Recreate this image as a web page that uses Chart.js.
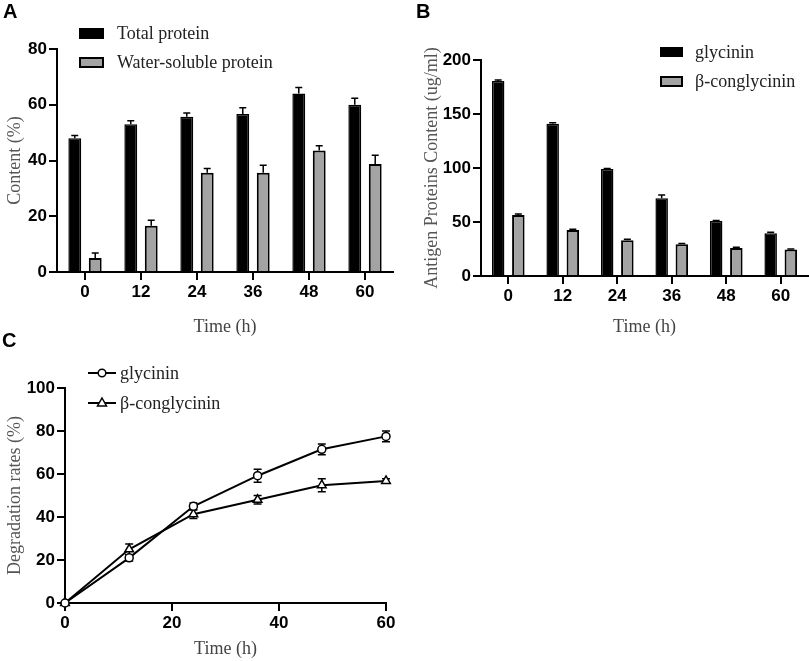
<!DOCTYPE html>
<html>
<head>
<meta charset="utf-8">
<script src="https://cdn.jsdelivr.net/npm/chart.js@4.4.1/dist/chart.umd.min.js"></script>
<style>
  body { margin: 0; background: #fff; width: 809px; height: 661px; position: relative; overflow: hidden; }
  canvas { position: absolute; }
  .letra { position: absolute; font: bold 20px 'Liberation Sans', Arial, sans-serif; line-height: 20px; color: #000; }
  .leg { position: absolute; font: 18px 'Liberation Serif', 'Times New Roman', serif; color: #222; line-height: 18px; white-space: nowrap; }
  .sw { position: absolute; box-sizing: border-box; border: 2px solid #000; }
</style>
</head>
<body>
<canvas id="graficoA" width="400" height="340" style="left:0;top:0"></canvas>
<canvas id="graficoB" width="409" height="340" style="left:400px;top:0"></canvas>
<canvas id="graficoC" width="400" height="331" style="left:0;top:330px"></canvas>

<div class="letra" style="left:3px;top:1px">A</div>
<div class="letra" style="left:416px;top:1px">B</div>
<div class="letra" style="left:2px;top:330px">C</div>

<!-- legenda A -->
<div class="sw" style="left:79px;top:28px;width:25px;height:11px;background:#000"></div>
<div class="leg" style="left:117px;top:24px">Total protein</div>
<div class="sw" style="left:79px;top:57px;width:25px;height:11px;background:#a3a3a3"></div>
<div class="leg" style="left:117px;top:53px">Water-soluble protein</div>

<!-- legenda B -->
<div class="sw" style="left:660px;top:47px;width:23px;height:10px;background:#000"></div>
<div class="leg" style="left:695px;top:43px">glycinin</div>
<div class="sw" style="left:660px;top:76px;width:23px;height:11px;background:#a3a3a3"></div>
<div class="leg" style="left:695px;top:72px">β-conglycinin</div>

<!-- legenda C -->
<svg style="position:absolute;left:86px;top:366px" width="32" height="44">
  <line x1="2" y1="7" x2="30" y2="7" stroke="#000" stroke-width="2"/>
  <circle cx="16" cy="7" r="3.8" fill="#fff" stroke="#000" stroke-width="1.5"/>
  <line x1="2" y1="37" x2="30" y2="37" stroke="#000" stroke-width="2"/>
  <polygon points="16,32 20.5,40 11.5,40" fill="#fff" stroke="#000" stroke-width="1.5"/>
</svg>
<div class="leg" style="left:120px;top:364px">glycinin</div>
<div class="leg" style="left:120px;top:394px">β-conglycinin</div>

<script>
// Dados do painel A
const horas = ['0', '12', '24', '36', '48', '60'];
const proteinaTotal = [48, 53, 55.7, 56.7, 64, 60];
const erroTotal = [1, 1.3, 1.3, 2.2, 2.2, 2.3];
const proteinaSoluvel = [5, 16.6, 35.6, 35.6, 43.6, 38.7];
const erroSoluvel = [1.8, 2, 1.5, 2.7, 1.7, 3.2];

// Dados do painel B
const glicinina = [180.5, 141, 99, 72, 51, 39.5];
const erroGlicinina = [1, 1, 0.5, 3, 0.5, 1];
const betaConglicinina = [56.5, 42.5, 33, 29.5, 26, 24.5];
const erroBeta = [1, 0.8, 1, 0.5, 0.6, 0.6];

// Dados do painel C (taxa de degradação)
const tempoC = [0, 12, 24, 36, 48, 60];
const degGlicinina = [0, 21, 45, 59.2, 71.5, 77.5];
const errDegGlicinina = [0, 1.5, 1.5, 3, 2.5, 2.5];
const degBeta = [0, 25, 41.3, 48, 54.8, 56.8];
const errDegBeta = [0, 2.5, 2, 2, 3, 1];

const fonteTick = { family: "'Liberation Sans', Arial, sans-serif", weight: 'bold', size: 17 };
const fonteTitulo = { family: "'Liberation Serif', 'Times New Roman', serif", size: 18, lineHeight: 1 };

// Plugin para desenhar barras de erro usando as escalas do gráfico
const barrasErro = {
  id: 'barrasErro',
  beforeDatasetsDraw(chart) {
    const ctx = chart.ctx;
    const escalaY = chart.scales.y;
    chart.data.datasets.forEach((ds, i) => {
      if (!ds.erros) return;
      const meta = chart.getDatasetMeta(i);
      meta.data.forEach((el, j) => {
        const v = ds.data[j];
        const e = ds.erros[j];
        if (!e) return;
        const topo = escalaY.getPixelForValue(v + e);
        const base = el.y;
        const meia = 3.5;
        ctx.save();
        ctx.strokeStyle = '#000';
        ctx.lineWidth = 1.5;
        ctx.beginPath();
        ctx.moveTo(el.x, base);
        ctx.lineTo(el.x, topo);
        ctx.moveTo(el.x - meia, topo);
        ctx.lineTo(el.x + meia, topo);
        ctx.stroke();
        ctx.restore();
      });
    });
  }
};

function eixoX(titulo, altura, padTitulo, extra) {
  return Object.assign({
    grid: { display: true, offset: false, drawOnChartArea: false, drawTicks: true, tickLength: 8, color: '#000', lineWidth: 2 },
    border: { display: true, color: '#000', width: 2 },
    ticks: { color: '#000', font: fonteTick, padding: 2, maxRotation: 0 },
    title: { display: true, text: titulo, color: '#444', font: fonteTitulo, padding: { top: 0, bottom: padTitulo } },
    afterFit: s => { s.height = altura; }
  }, extra || {});
}

function eixoY(titulo, largura, padTitulo, max, passo) {
  return {
    min: 0, max: max,
    grid: { display: true, drawOnChartArea: false, drawTicks: true, tickLength: 8, color: '#000', lineWidth: 2 },
    border: { display: true, color: '#000', width: 2 },
    ticks: { color: '#000', font: fonteTick, padding: 2, stepSize: passo },
    title: { display: true, text: titulo, color: '#555', font: fonteTitulo, padding: { top: padTitulo, bottom: 0 } },
    afterFit: s => { s.width = largura; }
  };
}

const semExtras = { legend: { display: false }, tooltip: { enabled: false } };

// Painel A
new Chart(document.getElementById('graficoA'), {
  type: 'bar',
  data: {
    labels: horas,
    datasets: [
      { label: 'Total protein', data: proteinaTotal, erros: erroTotal, backgroundColor: '#000', borderColor: '#000', borderWidth: 1.5 },
      { label: 'Water-soluble protein', data: proteinaSoluvel, erros: erroSoluvel, backgroundColor: '#a3a3a3', borderColor: '#000', borderWidth: 2 }
    ]
  },
  options: {
    responsive: false, animation: false,
    datasets: { bar: { categoryPercentage: 0.73, barPercentage: 0.63 } },
    layout: { padding: { top: 49, right: 7, left: 0, bottom: 0 } },
    plugins: semExtras,
    scales: {
      x: eixoX('Time (h)', 68, 4),
      y: eixoY('Content (%)', 57, 6, 80, 20)
    }
  },
  plugins: [barrasErro]
});

// Painel B
new Chart(document.getElementById('graficoB'), {
  type: 'bar',
  data: {
    labels: horas,
    datasets: [
      { label: 'glycinin', data: glicinina, erros: erroGlicinina, backgroundColor: '#000', borderColor: '#000', borderWidth: 1.5 },
      { label: 'β-conglycinin', data: betaConglicinina, erros: erroBeta, backgroundColor: '#a3a3a3', borderColor: '#000', borderWidth: 2 }
    ]
  },
  options: {
    responsive: false, animation: false,
    datasets: { bar: { categoryPercentage: 0.74, barPercentage: 0.62 } },
    layout: { padding: { top: 60, right: 1, left: 0, bottom: 0 } },
    plugins: semExtras,
    scales: {
      x: eixoX('Time (h)', 64, 4),
      y: eixoY('Antigen Proteins Content (ug/ml)', 81, 23, 200, 50)
    }
  },
  plugins: [barrasErro]
});

// Painel C
new Chart(document.getElementById('graficoC'), {
  type: 'line',
  data: {
    datasets: [
      {
        label: 'glycinin', data: degGlicinina.map((v, i) => ({ x: tempoC[i], y: v })),
        borderColor: '#000', borderWidth: 2, pointStyle: 'circle', pointRadius: 4,
        pointBackgroundColor: '#fff', pointBorderColor: '#000', pointBorderWidth: 1.5, clip: false
      },
      {
        label: 'β-conglycinin', data: degBeta.map((v, i) => ({ x: tempoC[i], y: v })),
        borderColor: '#000', borderWidth: 2, pointStyle: 'triangle', pointRadius: 5,
        pointBackgroundColor: '#fff', pointBorderColor: '#000', pointBorderWidth: 1.5, clip: false
      }
    ]
  },
  options: {
    responsive: false, animation: false,
    layout: { padding: { top: 58, right: 14, left: 0, bottom: 0 } },
    plugins: semExtras,
    scales: {
      x: eixoX('Time (h)', 58, 3, { type: 'linear', min: 0, max: 60, ticks: { color: '#000', font: fonteTick, padding: 2, stepSize: 20 } }),
      y: eixoY('Degradation rates (%)', 65, 6, 100, 20)
    }
  },
  plugins: [{
    // barras de erro nos dois sentidos para as curvas
    id: 'erroLinhas',
    beforeDatasetsDraw(chart) {
      const ctx = chart.ctx;
      const y = chart.scales.y;
      const erros = [errDegGlicinina, errDegBeta];
      const valores = [degGlicinina, degBeta];
      erros.forEach((lista, i) => {
        const meta = chart.getDatasetMeta(i);
        meta.data.forEach((el, j) => {
          const e = lista[j];
          if (!e) return;
          const t = y.getPixelForValue(valores[i][j] + e);
          const b = y.getPixelForValue(valores[i][j] - e);
          ctx.save();
          ctx.strokeStyle = '#000';
          ctx.lineWidth = 1.5;
          ctx.beginPath();
          ctx.moveTo(el.x, t); ctx.lineTo(el.x, b);
          ctx.moveTo(el.x - 4, t); ctx.lineTo(el.x + 4, t);
          ctx.moveTo(el.x - 4, b); ctx.lineTo(el.x + 4, b);
          ctx.stroke();
          ctx.restore();
        });
      });
    }
  }]
});
</script>
</body>
</html>
